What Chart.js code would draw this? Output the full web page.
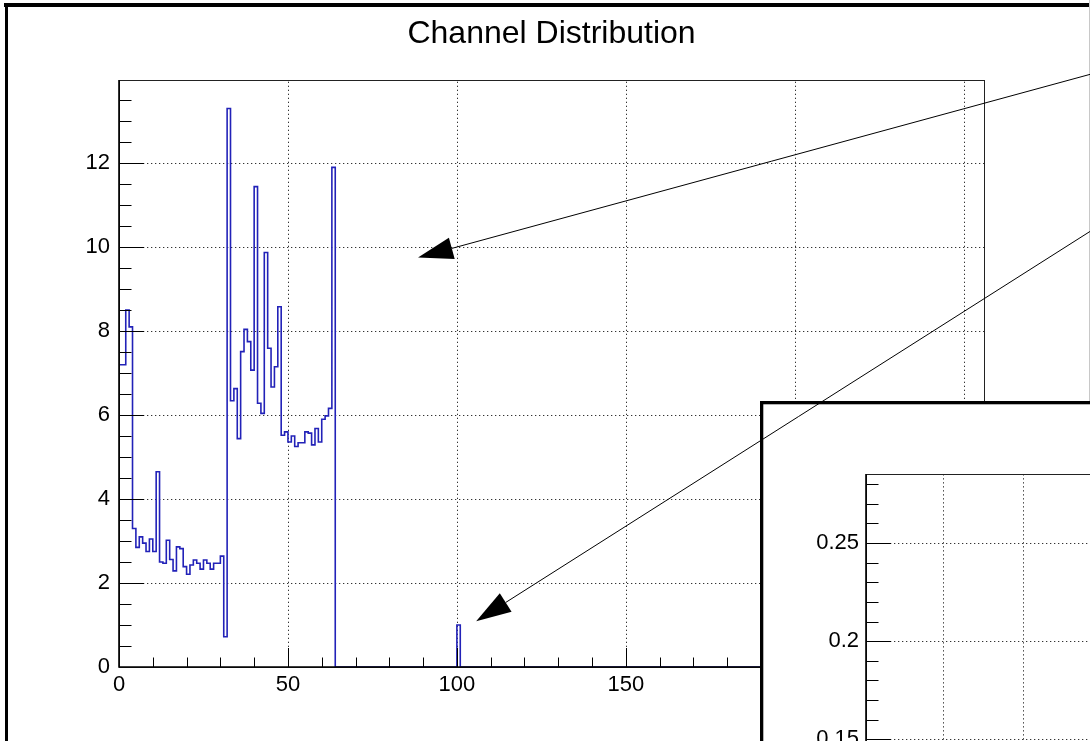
<!DOCTYPE html>
<html>
<head>
<meta charset="utf-8">
<title>Channel Distribution</title>
<script src="https://cdn.jsdelivr.net/npm/chart.js@4.4.1/dist/chart.umd.min.js"></script>
<style>
  html, body { margin: 0; padding: 0; background: #fff; }
  body { width: 1090px; height: 741px; overflow: hidden; position: relative; }
  canvas { position: absolute; }
  #mainChart { left: 0; top: 0; }
  #insetChart { left: 760px; top: 401px; }
  #arrows { left: 0; top: 0; pointer-events: none; }
</style>
</head>
<body>
<canvas id="mainChart" width="1090" height="741"></canvas>
<canvas id="insetChart" width="600" height="600"></canvas>
<canvas id="arrows" width="1090" height="741"></canvas>
<script>
// counts per channel, channels 0..63
const channelCounts = [
  7.2, 7.2, 8.5, 8.1, 3.3, 2.85, 3.1, 2.95, 2.75, 3.05,
  2.75, 4.65, 2.5, 2.47, 3.02, 2.56, 2.29, 2.86, 2.82, 2.39,
  2.21, 2.43, 2.55, 2.47, 2.33, 2.55, 2.47, 2.33, 2.47, 2.47,
  2.64, 0.72, 13.3, 6.34, 6.63, 5.44, 7.51, 8.04, 7.75, 7.07,
  11.44, 6.28, 6.04, 9.87, 7.59, 6.67, 7.15, 8.58, 5.52, 5.6,
  5.36, 5.5, 5.25, 5.34, 5.34, 5.6, 5.57, 5.29, 5.68, 5.36,
  5.9, 5.98, 6.16, 11.9
];
// single hits further up
const isolatedChannels = [100];
const isolatedCounts = [1.0];
const nChannels = 256;

const xMajorTicks = [0, 50, 100, 150, 200, 250];
const yMajorTicks = [0, 2, 4, 6, 8, 10, 12];
const insetXTicks = [1, 2, 3, 4, 5];
const insetYTicks = [0.1, 0.15, 0.2, 0.25];

// arrows, in channel / count units: [x, y]
const arrowTips = [[88.5, 9.75], [105.7, 1.09]];
const arrowTails = [[320, 14.83], [320, 12.04]];

const FONT = '"Liberation Sans", Arial, Helvetica, sans-serif';
Chart.defaults.font.family = FONT;
Chart.defaults.font.size = 22;
Chart.defaults.color = '#000';

// fill the histogram
const counts = new Array(nChannels).fill(0);
channelCounts.forEach((v, ch) => { counts[ch] = v; });
isolatedChannels.forEach((ch, i) => { counts[ch] = isolatedCounts[i]; });
const steps = [{x: 0, y: 0}];
counts.forEach((v, ch) => steps.push({x: ch, y: v}));
steps.push({x: nChannels, y: 0});

// ROOT-like frame: dotted grid, inward ticks, box
function padPlugin(o) {
  return {
    id: 'pad',
    beforeDraw(chart) {
      const ctx = chart.ctx;
      ctx.save();
      ctx.fillStyle = '#fff';
      ctx.fillRect(0, 0, chart.width, chart.height);
      if (o.border) o.border(ctx, chart);
      ctx.restore();
    },
    beforeDatasetsDraw(chart) {
      const {ctx, chartArea: a, scales: {x, y}} = chart;
      ctx.save();
      ctx.strokeStyle = '#333';
      ctx.lineWidth = 1;
      ctx.setLineDash([1.3, 2.7]);
      o.xGrid.forEach(v => {
        const px = Math.round(x.getPixelForValue(v)) + 0.5;
        if (px <= a.left + 1 || px >= a.right - 1) return;
        ctx.beginPath(); ctx.moveTo(px, a.bottom); ctx.lineTo(px, a.top); ctx.stroke();
      });
      o.yGrid.forEach(v => {
        const py = Math.round(y.getPixelForValue(v)) + 0.5;
        if (py >= a.bottom - 1 || py <= a.top + 1) return;
        ctx.beginPath(); ctx.moveTo(a.left, py); ctx.lineTo(a.right, py); ctx.stroke();
      });
      ctx.restore();
    },
    afterDatasetsDraw(chart) {
      const {ctx, chartArea: a, scales: {x, y}} = chart;
      ctx.save();
      ctx.strokeStyle = '#000';
      ctx.lineWidth = 1;
      // x ticks (point up into the frame)
      for (let v = x.min - (x.min % o.xMinor); v <= x.max + 1e-9; v += o.xMinor) {
        if (v < x.min - 1e-9) continue;
        const px = Math.round(x.getPixelForValue(v)) + 0.5;
        const major = Math.abs(v / o.xMajor - Math.round(v / o.xMajor)) < 1e-6;
        ctx.beginPath(); ctx.moveTo(px, a.bottom); ctx.lineTo(px, a.bottom - (major ? o.xTickLen : o.xTickLen / 2)); ctx.stroke();
      }
      // y ticks
      const y0 = Math.ceil(y.min / o.yMinor - 1e-6);
      for (let k = y0; k * o.yMinor <= y.max + 1e-9; k++) {
        const v = k * o.yMinor;
        const py = Math.round(y.getPixelForValue(v)) + 0.5;
        const major = Math.abs(v / o.yMajor - Math.round(v / o.yMajor)) < 1e-6;
        ctx.beginPath(); ctx.moveTo(a.left, py); ctx.lineTo(a.left + (major ? o.yTickLen : o.yTickLen / 2), py); ctx.stroke();
      }
      // frame
      ctx.strokeStyle = '#222';
      ctx.strokeRect(Math.round(a.left) + 0.5, Math.round(a.top) + 0.5, Math.round(a.right - a.left), Math.round(a.bottom - a.top));
      ctx.lineWidth = 1.6;
      ctx.strokeStyle = '#000';
      ctx.beginPath();
      ctx.moveTo(a.left, a.top); ctx.lineTo(a.left, a.bottom); ctx.lineTo(a.right, a.bottom);
      ctx.stroke();
      ctx.restore();
    },
    afterDraw(chart) {
      if (!o.title) return;
      const {ctx, chartArea: a} = chart;
      ctx.save();
      ctx.font = '32px ' + FONT;
      ctx.fillStyle = '#000';
      ctx.textAlign = 'center';
      ctx.textBaseline = 'alphabetic';
      ctx.fillText(o.title, (a.left + a.right) / 2, 43);
      ctx.restore();
    }
  };
}

const mainChart = new Chart(document.getElementById('mainChart'), {
  type: 'line',
  data: {
    datasets: [{
      label: 'Channel Distribution',
      data: steps,
      stepped: true,
      borderColor: '#2222b8',
      borderWidth: 1.6,
      pointRadius: 0,
      fill: false
    }]
  },
  options: {
    responsive: false,
    animation: false,
    devicePixelRatio: 1,
    layout: { padding: { left: 0, top: 80, right: 106, bottom: 0 } },
    plugins: { legend: { display: false }, tooltip: { enabled: false }, title: { display: false } },
    scales: {
      x: {
        type: 'linear', min: 0, max: nChannels,
        grid: { display: false, drawTicks: false },
        border: { display: false },
        ticks: { autoSkip: false, maxRotation: 0, padding: 5, callback: v => String(v) },
        afterBuildTicks: s => { s.ticks = xMajorTicks.map(v => ({value: v})); },
        afterFit: s => { s.height = 74; }
      },
      y: {
        type: 'linear', min: 0, max: 13.98,
        grid: { display: false, drawTicks: false },
        border: { display: false },
        ticks: { padding: 9, callback: v => String(v) },
        afterBuildTicks: s => { s.ticks = yMajorTicks.map(v => ({value: v})); },
        afterFit: s => { s.width = 119; }
      }
    }
  },
  plugins: [padPlugin({
    title: 'Channel Distribution',
    xGrid: xMajorTicks, yGrid: yMajorTicks,
    xMinor: 10, xMajor: 50, xTickLen: 19,
    yMinor: 0.5, yMajor: 2, yTickLen: 25,
    border(ctx, chart) {
      ctx.fillStyle = '#000';
      ctx.fillRect(4, 3, chart.width - 4, 4);
      ctx.fillRect(5, 3, 3, chart.height - 3);
      ctx.fillStyle = '#c8c8c8';
      ctx.fillRect(chart.width - 1, 0, 1, chart.height);
    }
  })]
});

const insetChart = new Chart(document.getElementById('insetChart'), {
  type: 'line',
  data: { datasets: [{ data: [], pointRadius: 0 }] },
  options: {
    responsive: false,
    animation: false,
    devicePixelRatio: 1,
    layout: { padding: { left: 0, top: 73, right: 40, bottom: 0 } },
    plugins: { legend: { display: false }, tooltip: { enabled: false } },
    scales: {
      x: {
        type: 'linear', min: 0.034, max: 5.709,
        grid: { display: false, drawTicks: false },
        border: { display: false },
        ticks: { autoSkip: false, maxRotation: 0, padding: 5, callback: v => String(v) },
        afterBuildTicks: s => { s.ticks = insetXTicks.map(v => ({value: v})); },
        afterFit: s => { s.height = 65.5; }
      },
      y: {
        type: 'linear', min: 0.05, max: 0.2852,
        grid: { display: false, drawTicks: false },
        border: { display: false },
        ticks: { padding: 7, callback: v => String(v) },
        afterBuildTicks: s => { s.ticks = insetYTicks.map(v => ({value: v})); },
        afterFit: s => { s.width = 106; }
      }
    }
  },
  plugins: [padPlugin({
    xGrid: insetXTicks, yGrid: insetYTicks,
    xMinor: 0.2, xMajor: 1, xTickLen: 19,
    yMinor: 0.01, yMajor: 0.05, yTickLen: 25,
    border(ctx, chart) {
      ctx.strokeStyle = '#000';
      ctx.lineWidth = 3.3;
      ctx.strokeRect(1.65, 1.65, chart.width, chart.height);
    }
  })]
});

// arrows on top of both pads
(function drawArrows() {
  const ctx = document.getElementById('arrows').getContext('2d');
  const {x, y} = mainChart.scales;
  const headLen = 35, headHalf = 11;
  ctx.strokeStyle = '#000';
  ctx.fillStyle = '#000';
  ctx.lineWidth = 1;
  arrowTips.forEach((tip, i) => {
    const tx = x.getPixelForValue(tip[0]), ty = y.getPixelForValue(tip[1]);
    const sx = x.getPixelForValue(arrowTails[i][0]), sy = y.getPixelForValue(arrowTails[i][1]);
    const len = Math.hypot(sx - tx, sy - ty);
    const ux = (sx - tx) / len, uy = (sy - ty) / len;
    const bx = tx + ux * headLen, by = ty + uy * headLen;
    ctx.beginPath(); ctx.moveTo(sx, sy); ctx.lineTo(bx, by); ctx.stroke();
    ctx.beginPath();
    ctx.moveTo(tx, ty);
    ctx.lineTo(bx - uy * headHalf, by + ux * headHalf);
    ctx.lineTo(bx + uy * headHalf, by - ux * headHalf);
    ctx.closePath();
    ctx.fill();
  });
})();
</script>
</body>
</html>
